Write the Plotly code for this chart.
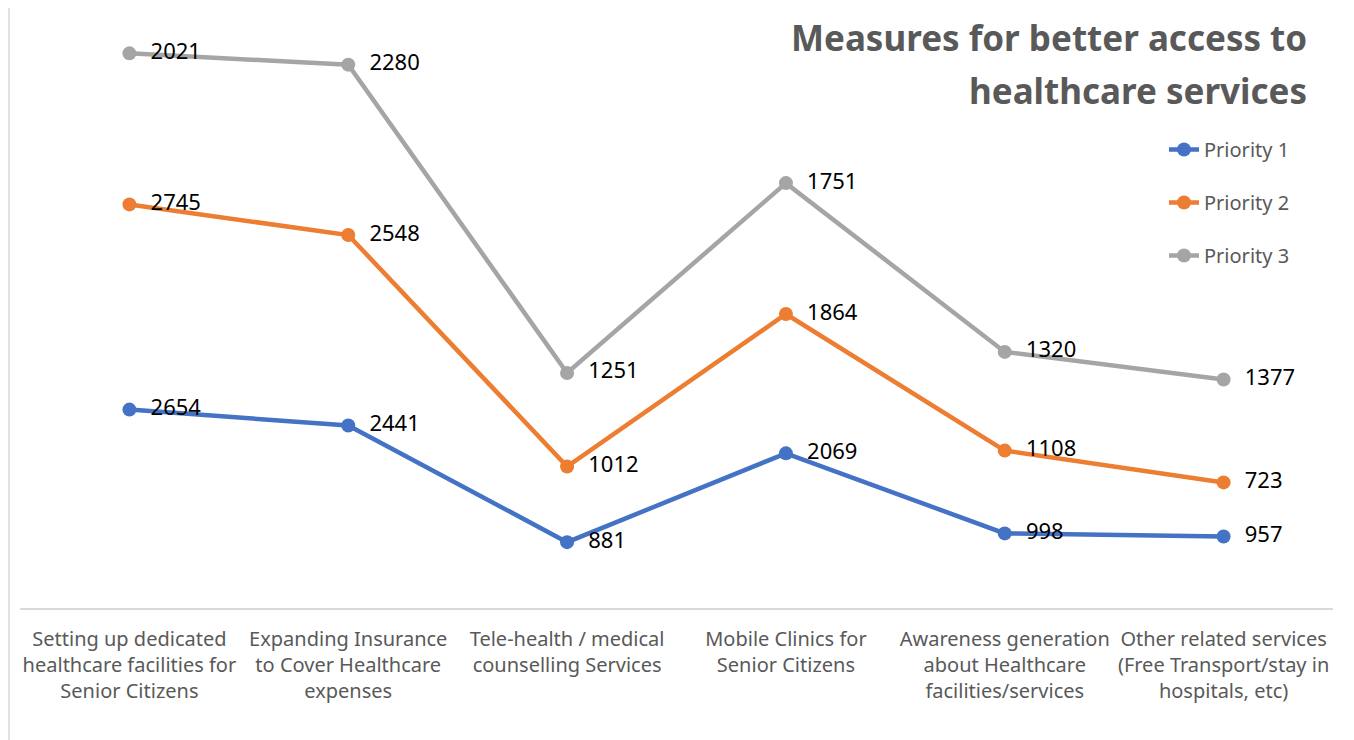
import plotly.graph_objects as go

categories = [
    "Setting up dedicated<br>healthcare facilities for<br>Senior Citizens",
    "Expanding Insurance<br>to Cover Healthcare<br>expenses",
    "Tele-health / medical<br>counselling Services",
    "Mobile Clinics for<br>Senior Citizens",
    "Awareness generation<br>about Healthcare<br>facilities/services",
    "Other related services<br>(Free Transport/stay in<br>hospitals, etc)",
]
series_names = ["Priority 1", "Priority 2", "Priority 3"]
priority_1 = [2654, 2441, 881, 2069, 998, 957]
priority_2 = [2745, 2548, 1012, 1864, 1108, 723]
priority_3 = [2021, 2280, 1251, 1751, 1320, 1377]
colors = ["#4472C4", "#ED7D31", "#A5A5A5"]

OFF = 8  # page body margin
W, H = 1354, 740
# target plot area in page pixels: x 20..1333, y 10..608
ML = 20 - OFF
MT = 10 - OFF
MR = W - (1333 - OFF)
MB = H - (608 - OFF)

fig = go.Figure()
for name, vals, col in zip(series_names, [priority_1, priority_2, priority_3], colors):
    fig.add_trace(go.Scatter(
        x=categories, y=vals, name=name, stackgroup="one", fill="none",
        mode="lines+markers+text",
        line=dict(color=col, width=4.5),
        marker=dict(color=col, size=14),
        text=[str(v) for v in vals],
        texttemplate="  %{text}",
        textposition="middle right",
        textfont=dict(family="Noto Sans", size=22, color="#000000"),
        legendgroup=name,
        hoverinfo="skip",
    ))

pw = W - ML - MR
ph = H - MT - MB
def px_x(p):  # page px -> paper
    return (p - OFF - ML) / pw
def px_y(p):
    return (H - MB - (p - OFF)) / ph

title_font = dict(family="Noto Sans", size=35, color="#595959")
fig.add_annotation(x=px_x(1309), y=px_y(38), xref="paper", yref="paper",
                   text="<b>Measures for better access to</b>", showarrow=False,
                   xanchor="right", yanchor="middle", font=title_font)
fig.add_annotation(x=px_x(1309), y=px_y(90), xref="paper", yref="paper",
                   text="<b>healthcare services</b>", showarrow=False,
                   xanchor="right", yanchor="middle", font=title_font)

for xp in (9, 1350):
    fig.add_shape(type="line", xref="paper", yref="paper",
                  x0=px_x(xp), x1=px_x(xp), y0=px_y(760), y1=px_y(0),
                  line=dict(color="#D9D9D9", width=1.5))

fig.update_layout(
    width=W, height=H,
    margin=dict(l=ML, r=MR, t=MT, b=MB),
    paper_bgcolor="white", plot_bgcolor="white",
    showlegend=True,
    legend=dict(x=px_x(1164), y=px_y(130), xanchor="left", yanchor="top",
                font=dict(family="Noto Sans", size=20, color="#595959"),
                tracegroupgap=24, bgcolor="rgba(0,0,0,0)"),
    xaxis=dict(showgrid=False, showline=True, linecolor="#D9D9D9", linewidth=1.5,
               ticks="", range=[-0.5, 5.5], ticklabelstandoff=12,
               tickangle=0, automargin=False,
               tickfont=dict(family="Noto Sans", size=20, color="#595959")),
    yaxis=dict(range=[0, 8000], visible=False, showgrid=False, zeroline=False),
)

fig.write_html("out.html")
